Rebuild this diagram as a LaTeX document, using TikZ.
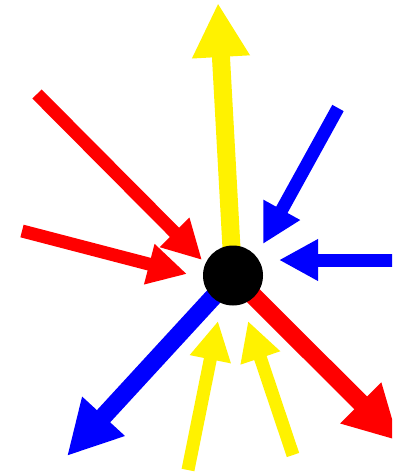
\documentclass[tikz,border=0pt]{standalone}
\usetikzlibrary{arrows.meta}
\begin{document}
\begin{tikzpicture}[x=1pt,y=-1pt,
  arr/.style={line width=#1, -{Triangle[length=0pt 3, width=0pt 3]}},
  thin arr/.style={arr=13pt},
  thick arr/.style={arr=18pt},
  dot/.style={circle, fill=black, inner sep=0pt, minimum size=60pt}]
\useasboundingbox (0,0) rectangle (392,474);
\clip (0,0) rectangle (392,474);
\coordinate (o) at (233,275.5);
% outgoing
\coordinate (tY) at (218,3);
\coordinate (tB) at (67,456);
\coordinate (tR) at (399,441);
% incoming tails
\coordinate (sR1) at (37,94);
\coordinate (sR2) at (22,231);
\coordinate (sB1) at (338,108);
\coordinate (sB2) at (410,260);
\coordinate (sY1) at (188,470);
\coordinate (sY2) at (293,455);
% incoming tips
\coordinate (eR1) at (202,260);
\coordinate (eR2) at (187,274);
\coordinate (eB1) at (263,244);
\coordinate (eB2) at (279,260);
\coordinate (eY1) at (218,321);
\coordinate (eY2) at (248,321);
\draw[thick arr, yellow] (o) -- (tY);
\draw[thick arr, blue] (o) -- (tB);
\draw[thick arr, red] (o) -- (tR);
\draw[thin arr, red] (sR1) -- (eR1);
\draw[thin arr, red] (sR2) -- (eR2);
\draw[thin arr, blue] (sB1) -- (eB1);
\draw[thin arr, blue] (sB2) -- (eB2);
\draw[thin arr, yellow] (sY1) -- (eY1);
\draw[thin arr, yellow] (sY2) -- (eY2);
\node[dot] (c) at (o) {};
\end{tikzpicture}
\end{document}
